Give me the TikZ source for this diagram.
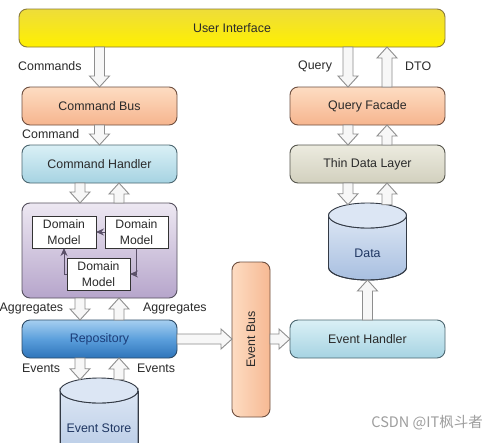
\documentclass[tikz,border=0pt]{standalone}
\usepackage{fontspec}
\setmainfont{Liberation Sans}
\newfontfamily\cjkfont{Noto Sans CJK SC}
\usetikzlibrary{calc,arrows.meta}

\definecolor{uitop}{HTML}{EEDD3A}
\definecolor{uibot}{HTML}{FFF000}
\definecolor{uiline}{HTML}{8A7A3A}
\definecolor{ortop}{HTML}{FDDCC2}
\definecolor{orbot}{HTML}{F6B58E}
\definecolor{orline}{HTML}{6E4F40}
\definecolor{bltop}{HTML}{DAF0F6}
\definecolor{blbot}{HTML}{A6D3E2}
\definecolor{blline}{HTML}{4C6670}
\definecolor{putop}{HTML}{EDE8F2}
\definecolor{pubot}{HTML}{B6A5CB}
\definecolor{puline}{HTML}{55505E}
\definecolor{retop}{HTML}{A6CFF0}
\definecolor{remid}{HTML}{5B9FDC}
\definecolor{rebot}{HTML}{2E74BA}
\definecolor{reline}{HTML}{2C4A66}
\definecolor{retext}{HTML}{1B3C78}
\definecolor{gytop}{HTML}{ECEBDF}
\definecolor{gybot}{HTML}{D2D0BE}
\definecolor{gyline}{HTML}{55554D}
\definecolor{cytop}{HTML}{DCE6F4}
\definecolor{cybot}{HTML}{A8BFE0}
\definecolor{cyline}{HTML}{333A45}
\definecolor{cytext}{HTML}{1F3662}
\definecolor{arrline}{HTML}{8E8E8E}
\definecolor{arrfill}{HTML}{F7F7F7}
\definecolor{txt}{HTML}{2A2A2A}
\definecolor{dmline}{HTML}{5A5068}

\tikzset{
  lbl/.style={font=\fontsize{12.4}{15}\selectfont, text=txt, inner sep=0pt, anchor=west},
  box/.style={rounded corners=8pt, line width=0.9pt, inner sep=0pt, outer sep=0pt,
    font=\fontsize{12.4}{15}\selectfont, text=txt,
    minimum width=155pt, minimum height=38pt},
  orbox/.style={box, draw=orline, top color=ortop, bottom color=orbot},
  blbox/.style={box, draw=blline, top color=bltop, bottom color=blbot},
  gybox/.style={box, draw=gyline, top color=gytop, bottom color=gybot},
  dmbox/.style={draw=black!80, line width=0.9pt, fill=white, inner sep=0pt, outer sep=0pt,
    minimum width=63pt, minimum height=32pt, align=center,
    font=\fontsize{12.2}{15.5}\selectfont, text=txt},
  dmarrow/.style={draw=dmline, line width=0.9pt, -{Stealth[length=8pt,width=7pt]}},
  blockarrow/.style={draw=arrline, fill=arrfill, line width=0.9pt, line join=miter},
  cyl/.style={draw=cyline, line width=0.9pt},
}

\newcommand\blockarr[2]{%
  \coordinate (ba-h) at ($(#2)!11pt!(#1)$);
  \draw[blockarrow] ($(#1)!5pt!90:(#2)$) -- ($(ba-h)!5pt!90:(#2)$) -- ($(ba-h)!10pt!90:(#2)$)
    -- (#2) -- ($(ba-h)!10pt!-90:(#2)$) -- ($(ba-h)!5pt!-90:(#2)$) -- ($(#1)!5pt!-90:(#2)$) -- cycle;}

\begin{document}
\begin{tikzpicture}[x=1pt,y=-1pt]
\useasboundingbox (0,0) rectangle (498,442);
\fill[white] (0,0) rectangle (498,442);
\clip (0,0) rectangle (498,442);

% ---------- boxes ----------
\node[box, draw=uiline, top color=uitop, bottom color=uibot, minimum width=426pt] (ui) at (232,28) {User Interface};
\node[orbox] (cb) at (99.5,106) {Command Bus};
\node[blbox] (ch) at (99.5,164) {Command Handler};
\node[box, draw=puline, top color=putop, bottom color=pubot, minimum height=95pt] (agg) at (99.5,250.5) {};
\node[box, draw=reline, top color=retop, bottom color=rebot, middle color=remid, text=retext] (repo) at (99.5,339) {Repository};
\node[orbox] (qf) at (367.5,106) {Query Facade};
\node[gybox] (tdl) at (367.5,164) {Thin Data Layer};
\node[blbox] (eh) at (367.5,339) {Event Handler};
\node[box, draw=orline, left color=ortop, right color=orbot!90!ortop, minimum width=38pt, minimum height=155pt] (eb) at (251,339.5) {\rotatebox{90}{Event Bus}};

% domain models
\node[dmbox, minimum width=64pt] (dm1) at (64,232) {Domain\\Model};
\node[dmbox] (dm2) at (136.5,232) {Domain\\Model};
\node[dmbox] (dm3) at (98.5,274) {Domain\\Model};
\draw[dmarrow] (dm2.west) -- (dm1.east);
\draw[dmarrow] (dm2.south) |- (dm3.east);
\draw[dmarrow] (dm3.west) -| (dm1.south);

% ---------- cylinders ----------
% Data
\path[cyl, top color=cytop, bottom color=cybot] (328.5,215.5) -- (328.5,267.5)
  arc[start angle=180, end angle=0, x radius=39, y radius=12.5] -- (406.5,215.5)
  arc[start angle=0, end angle=180, x radius=39, y radius=12.5] -- cycle;
\draw[cyl] (328.5,215.5) -- (328.5,267.5)
  arc[start angle=180, end angle=0, x radius=39, y radius=12.5] -- (406.5,215.5);
\draw[cyl, fill=cytop] (367.5,215.5) ellipse[x radius=39, y radius=12.5];
\node[font=\fontsize{12.4}{15}\selectfont, text=cytext] (data) at (367.5,253) {Data};
\coordinate (data-bot) at (367.5,280);

% Event Store
\path[cyl, top color=cytop, bottom color=cybot!85!cytop] (60,390.5) -- (60,470) -- (138,470) -- (138,390.5)
  arc[start angle=0, end angle=180, x radius=39, y radius=12.5] -- cycle;
\draw[cyl] (60,390.5) -- (60,470) (138,470) -- (138,390.5);
\draw[cyl, fill=cytop] (99,390.5) ellipse[x radius=39, y radius=12.5];
\node[font=\fontsize{12.4}{15}\selectfont, text=cytext] (es) at (99,428) {Event Store};

% ---------- block arrows ----------
\coordinate (c1) at (cb.north); \coordinate (c0) at (c1 |- ui.south);
\blockarr{c0}{c1}
\coordinate (c3) at (ch.north); \coordinate (c2) at (c3 |- cb.south);
\blockarr{c2}{c3}

\coordinate (q1) at ($(qf.north)+(-19.5,0)$); \coordinate (q0) at (q1 |- ui.south);
\blockarr{q0}{q1}
\coordinate (d0) at ($(qf.north)+(19.5,0)$); \coordinate (d1) at (d0 |- ui.south);
\blockarr{d0}{d1}
\coordinate (q3) at ($(tdl.north)+(-19.5,0)$); \coordinate (q2) at (q3 |- qf.south);
\blockarr{q2}{q3}
\coordinate (d2) at ($(tdl.north)+(19.5,0)$); \coordinate (d3) at (d2 |- qf.south);
\blockarr{d2}{d3}
\coordinate (q4) at ($(tdl.south)+(-19.5,0)$); \coordinate (q5) at (348,204.7);
\blockarr{q4}{q5}
\coordinate (d5) at ($(tdl.south)+(19.5,0)$); \coordinate (d4) at (387,204.7);
\blockarr{d4}{d5}
\blockarr{eh.north}{data-bot}

\coordinate (a0) at ($(ch.south)+(-19.5,0)$); \coordinate (a1) at (a0 |- agg.north);
\blockarr{a0}{a1}
\coordinate (b1) at ($(ch.south)+(19.5,0)$); \coordinate (b0) at (b1 |- agg.north);
\blockarr{b0}{b1}
\coordinate (a2) at ($(agg.south)+(-19.5,0)$); \coordinate (a3) at (a2 |- repo.north);
\blockarr{a2}{a3}
\coordinate (b3) at ($(agg.south)+(19.5,0)$); \coordinate (b2) at (b3 |- repo.north);
\blockarr{b2}{b3}
\coordinate (a4) at ($(repo.south)+(-19.5,0)$); \coordinate (a5) at (80,379.7);
\blockarr{a4}{a5}
\coordinate (b5) at ($(repo.south)+(19.5,0)$); \coordinate (b4) at (119,379.7);
\blockarr{b4}{b5}

\coordinate (r1) at (eb.west |- repo.east);
\blockarr{repo.east}{r1}
\coordinate (r2) at (eb.east |- eh.west);
\blockarr{r2}{eh.west}

% ---------- labels ----------
\node[lbl] (lcommands) at (18,66) {Commands};
\node[lbl] (lquery) at (298,66) {Query};
\node[lbl] (ldto) at (405,66) {DTO};
\node[lbl] (lcommand) at (22,134) {Command};
\node[lbl] (lagg1) at (-0.5,309) {Aggregates};
\node[lbl] (lagg2) at (143,309) {Aggregates};
\node[lbl] (lev1) at (22,368) {Events};
\node[lbl] (lev2) at (137,368) {Events};

% watermark
\node[anchor=east, text=black!38, inner sep=0pt, font=\cjkfont\fontsize{14.5}{17}\selectfont] (wm) at (483,423) {CSDN @IT枫斗者};
\end{tikzpicture}
\end{document}
